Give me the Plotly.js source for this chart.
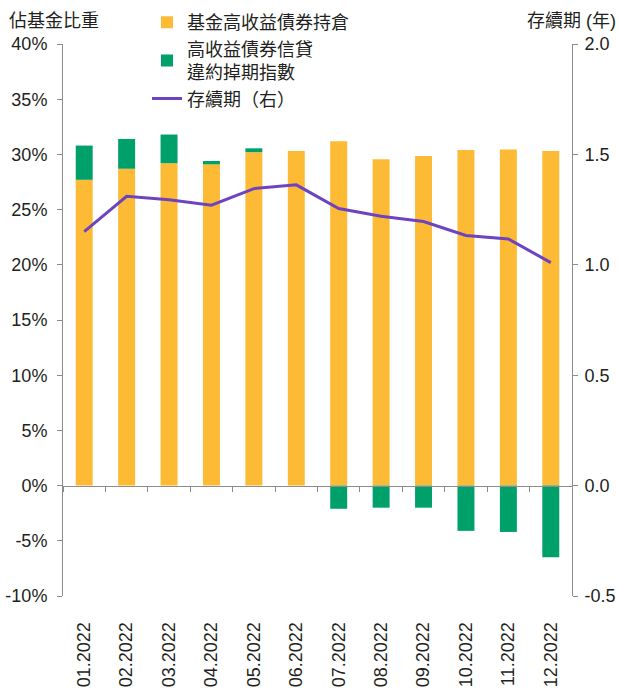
<!DOCTYPE html>
<html>
<head>
<meta charset="utf-8">
<script src="https://cdn.plot.ly/plotly-3.0.1.min.js"></script>
<style>html,body{margin:0;padding:0;background:#fff;}#chart{width:618px;height:689px;}</style>
</head>
<body>
<div id="chart"></div>
<script>
// Data
const months = ["01.2022","02.2022","03.2022","04.2022","05.2022","06.2022","07.2022","08.2022","09.2022","10.2022","11.2022","12.2022"];
const holdings = [27.7, 28.7, 29.2, 29.1, 30.2, 30.3, 31.2, 29.55, 29.85, 30.4, 30.45, 30.3];
const cdsIndex = [3.1, 2.7, 2.6, 0.3, 0.35, 0, -2.1, -2.0, -2.0, -4.1, -4.2, -6.5];
const duration = [1.15, 1.31, 1.295, 1.27, 1.345, 1.362, 1.255, 1.22, 1.196, 1.133, 1.117, 1.01];
const leftTicks = [-10, -5, 0, 5, 10, 15, 20, 25, 30, 35, 40];
const leftTickText = ["-10%","-5%","0%","5%","10%","15%","20%","25%","30%","35%","40%"];
const rightTicks = [-0.5, 0, 0.5, 1.0, 1.5, 2.0];
const rightTickText = ["-0.5","0.0","0.5","1.0","1.5","2.0"];
const seriesNames = ["基金高收益債券持倉", "高收益債券信貸<br>違約掉期指數", "存續期（右）"];

const FONT = "Liberation Sans, Arial, Noto Sans CJK TC, sans-serif";
const TXT = "#231f20";
const AX = "#8c8c8c";

// plot area: top at 44px, bottom at 596px; paper spans 0..596px
const domTop = (596 - 44) / 596;
const zeroPos = domTop * (10 / 50);

const traces = [
  {type:"bar", x:months, y:holdings, name:seriesNames[0], marker:{color:"#FDBB35"}, xaxis:"x", yaxis:"y"},
  {type:"bar", x:months, y:cdsIndex, name:seriesNames[1], marker:{color:"#00A06B"}, xaxis:"x", yaxis:"y"},
  {type:"scatter", mode:"lines", x:months, y:duration, name:seriesNames[2], line:{color:"#6E43BF", width:3}, xaxis:"x2", yaxis:"y2"}
];

const layout = {
  width:618, height:689,
  margin:{l:63, r:46, t:0, b:93},
  paper_bgcolor:"#fff", plot_bgcolor:"#fff",
  font:{family:FONT, size:18, color:TXT},
  barmode:"relative",
  bargap:0.6,
  showlegend:true,
  legend:{x:0.165, y:0.993, xanchor:"left", yanchor:"top", bgcolor:"rgba(0,0,0,0)", font:{size:18, color:TXT}, traceorder:"normal", itemwidth:30, tracegroupgap:0},
  xaxis:{type:"category", categoryarray:months, range:[-0.5,11.5], anchor:"free", position:zeroPos,
         showline:true, linecolor:AX, linewidth:1, ticks:"outside", tickson:"boundaries", ticklen:5, tickcolor:AX,
         showticklabels:false, showgrid:false, zeroline:false, automargin:false},
  xaxis2:{type:"category", categoryarray:months, range:[-0.5,11.5], overlaying:"x", side:"bottom", anchor:"y",
          showline:false, ticks:"outside", ticklen:18, tickcolor:"rgba(0,0,0,0)", tickangle:-90,
          showgrid:false, zeroline:false, automargin:false, tickfont:{size:18, color:TXT}},
  yaxis:{domain:[0, domTop], range:[-10,40], tickvals:leftTicks, ticktext:leftTickText, showline:true, linecolor:AX, linewidth:1,
         ticks:"outside", ticklen:5, tickcolor:AX, showgrid:false, zeroline:false, ticklabelstandoff:6, automargin:false, tickfont:{size:18, color:TXT}},
  yaxis2:{range:[-0.5,2.0], tickvals:rightTicks, ticktext:rightTickText, overlaying:"y", side:"right", anchor:"x",
          showline:true, linecolor:AX, linewidth:1, ticks:"outside", ticklen:5, tickcolor:AX, showgrid:false, zeroline:false,
          ticklabelstandoff:3, automargin:false, tickfont:{size:18, color:TXT}},
  annotations:[
    {text:"佔基金比重", xref:"paper", yref:"paper", x:-0.11, y:0.9446, xanchor:"left", yanchor:"bottom", showarrow:false, font:{size:18, color:TXT}},
    {text:"存續期 (年)", xref:"paper", yref:"paper", x:1.09, y:0.9446, xanchor:"right", yanchor:"bottom", showarrow:false, font:{size:18, color:TXT}}
  ]
};

Plotly.newPlot("chart", traces, layout, {displayModeBar:false, staticPlot:true});
</script>
</body>
</html>
